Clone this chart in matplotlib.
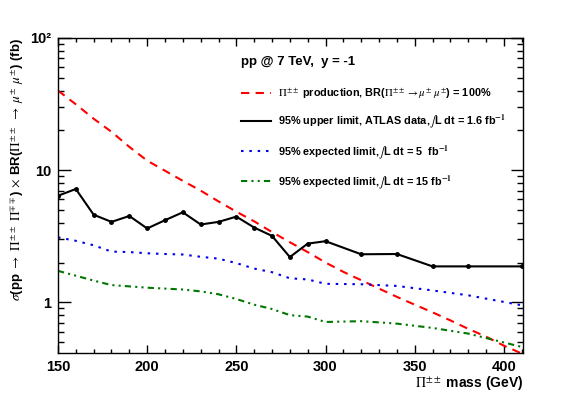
import numpy as np
import matplotlib
matplotlib.use("Agg")
import matplotlib.pyplot as plt
from matplotlib.lines import Line2D
from matplotlib.ticker import FixedLocator, LogLocator, NullFormatter, MultipleLocator

plt.rcParams['font.family'] = ['Liberation Sans', 'DejaVu Sans']
plt.rcParams['mathtext.fontset'] = 'stix'

# theory curve
mass_th = [150, 160, 170, 180, 190, 200, 210, 220, 230, 240, 250, 260, 270, 280,
           290, 300, 310, 320, 330, 340, 350, 360, 370, 380, 390, 400, 410]
xsec_th = [40, 31.5, 24.5, 19.5, 15.0, 11.8, 9.9, 8.3, 7.0, 5.8, 4.85, 4.1, 3.4, 2.85,
           2.4, 2.0, 1.7, 1.47, 1.27, 1.1, 0.96, 0.84, 0.73, 0.63, 0.55, 0.47, 0.41]

# observed limit (1.6 fb-1)
mass_obs = [150, 160, 170, 180, 190, 200, 210, 220, 230, 240, 250, 260, 270, 280,
            290, 300, 320, 340, 360, 380, 410]
lim_obs = [6.4, 7.2, 4.6, 4.06, 4.5, 3.62, 4.18, 4.8, 3.88, 4.06, 4.45, 3.68, 3.18, 2.2,
           2.78, 2.9, 2.31, 2.32, 1.87, 1.87, 1.87]

# expected limits
mass_exp = [150, 160, 170, 180, 190, 200, 210, 220, 230, 240, 250, 260, 270, 280,
            290, 300, 320, 340, 360, 380, 410]
lim_exp5 = [3.1, 2.92, 2.7, 2.42, 2.40, 2.35, 2.32, 2.30, 2.21, 2.14, 1.98, 1.80, 1.69, 1.52,
            1.49, 1.38, 1.37, 1.33, 1.23, 1.13, 0.95]
lim_exp15 = [1.73, 1.59, 1.46, 1.35, 1.32, 1.29, 1.27, 1.25, 1.21, 1.15, 1.06, 0.96, 0.89, 0.80,
             0.78, 0.71, 0.72, 0.69, 0.64, 0.58, 0.46]

fig = plt.figure(figsize=(5.81, 3.94), dpi=100)
ax = fig.add_axes([0.0998, 0.1028, 0.8012, 0.8008])

ax.plot(mass_th, xsec_th, color='#ff0000', lw=1.5, linestyle=(0, (4, 3)))
ax.plot(mass_obs, lim_obs, color='black', lw=1.5, marker='o', ms=2.5)
ax.plot(mass_exp, lim_exp5, color='#0000ee', lw=1.5, linestyle=(0, (1.2, 2.8)))
ax.plot(mass_exp, lim_exp15, color='#007700', lw=1.5, linestyle=(0, (3, 2, 1, 2, 1, 2)))

ax.set_yscale('log')
ax.set_xlim(150, 411)
ax.set_ylim(0.41, 100)

ax.yaxis.set_major_locator(FixedLocator([1, 10, 100]))
ax.set_yticklabels(['1', '10', '10\u00b2'])
ax.yaxis.set_minor_locator(LogLocator(base=10, subs=np.arange(2, 10)))
ax.yaxis.set_minor_formatter(NullFormatter())
ax.xaxis.set_major_locator(MultipleLocator(50))
ax.xaxis.set_minor_locator(MultipleLocator(10))

ax.tick_params(which='both', direction='in', top=True, right=True, width=1)
ax.tick_params(axis='y', which='major', length=9)
ax.tick_params(axis='y', which='minor', length=4.5)
ax.tick_params(axis='x', which='major', length=6)
ax.tick_params(axis='x', which='minor', length=3)
ax.tick_params(axis='both', which='major', labelsize=10.5, pad=5)
for lab in ax.get_xticklabels() + ax.get_yticklabels():
    lab.set_fontweight('bold')
for sp in ax.spines.values():
    sp.set_linewidth(1)

ax.set_xlabel(r'$\Pi^{\pm\pm}$ mass (GeV)', fontsize=10, fontweight='bold', loc='right', labelpad=0)
ax.set_ylabel(r'$\sigma$(pp $\rightarrow$ $\Pi^{\pm\pm}$ $\Pi^{\mp\mp}$) $\times$ BR($\Pi^{\pm\pm}$ $\rightarrow$ $\mu^{\pm}$ $\mu^{\pm}$) (fb)',
              fontsize=9.5, fontweight='bold', loc='top', labelpad=3)

handles = [
    Line2D([], [], color='#ff0000', lw=1.5, linestyle=(0, (4, 3))),
    Line2D([], [], color='black', lw=1.5),
    Line2D([], [], color='#0000ee', lw=1.5, linestyle=(0, (1.2, 2.8))),
    Line2D([], [], color='#007700', lw=1.5, linestyle=(0, (3, 2, 1, 2, 1, 2))),
]
labels = [
    r'$\Pi^{\pm\pm}$ production, BR($\Pi^{\pm\pm}$$\rightarrow$$\mu^{\pm}$ $\mu^{\pm}$) = 100%',
    r'95% upper limit, ATLAS data,$\int$L dt = 1.6 fb$^{\mathbf{-1}}$',
    r'95% expected limit,$\int$L dt = 5  fb$^{\mathbf{-1}}$',
    r'95% expected limit,$\int$L dt = 15 fb$^{\mathbf{-1}}$',
]
leg = ax.legend(handles, labels, loc='upper left', bbox_to_anchor=(0.372, 0.975),
                frameon=False, handlelength=2.8, handletextpad=0.6, labelspacing=1.1,
                prop={'weight': 'bold', 'size': 7.8},
                title='pp @ 7 TeV,  y = -1', alignment='left',
                title_fontproperties={'weight': 'bold', 'size': 9.5})
leg._legend_box.sep = 14

fig.savefig('out.png', dpi=100)
